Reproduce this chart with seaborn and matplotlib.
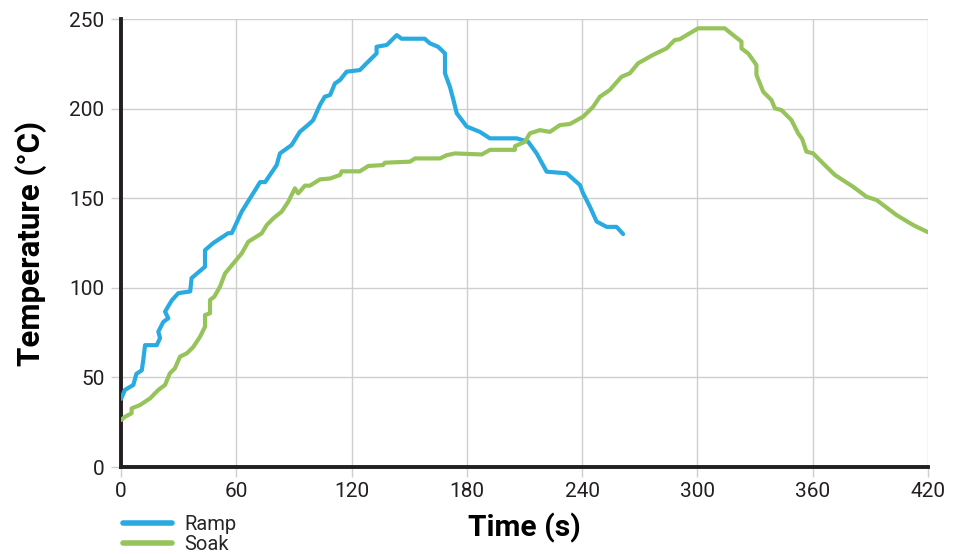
import matplotlib
matplotlib.use("Agg")
import matplotlib.pyplot as plt
import seaborn as sns
import pandas as pd

ramp_t = [0, 2, 6.4, 8, 10.8, 11.6, 12.5, 18.6, 20.3, 19.4, 22, 24.6, 22.9, 26.4, 29.8, 36, 36.7,
          43.7, 43.7, 48, 55.8, 57.6, 62.8, 72.4, 75, 81, 82.7, 88.8, 93, 98.3, 100, 103.5, 106,
          108.8, 111.3, 114, 117.4, 124.3, 127.8, 133, 133, 138.3, 143.5, 146, 158, 160.8, 165,
          168.6, 168.6, 171.2, 173, 174.7, 179.9, 186.8, 192, 205.9, 211.9, 216.3, 221.5, 231.9,
          238.8, 240.5, 244, 247.5, 252.7, 257.9, 261.3]
ramp_T = [38, 43, 45.8, 52, 54, 60, 68, 68, 72, 75.5, 81, 83, 86.7, 93, 97, 98, 105.4,
          111.8, 121, 125, 130.5, 130.5, 142.5, 159, 159, 168.5, 175, 179.7, 187, 191.8, 193.6, 202, 206.6,
          207.6, 214, 216, 220.6, 221.5, 225.3, 230.8, 234.5, 235.5, 241, 239, 239, 236.4, 234.5,
          230.8, 219.7, 212, 204.8, 197.4, 190, 187, 183.4, 183.4, 181.5, 175, 164.8, 163.9,
          157.4, 152.7, 145.3, 137, 134, 134, 130]

soak_t = [0, 2, 5.5, 5.5, 9.9, 15.1, 19.4, 22.9, 25.4, 28, 30.7, 34.2, 37.6, 41.1, 43.7, 43.7, 46.3,
          46.3, 48.5, 51.5, 54.1, 62.8, 66.2, 73.2, 75.8, 79.3, 83.6, 87, 90.5, 92.2, 95.7, 98.3,
          103.5, 108.8, 114, 114.8, 124.3, 128.7, 136.4, 137.3, 150.4, 153, 166, 169.5, 173.8,
          187.7, 192, 205, 205, 210.2, 212.8, 218, 223.2, 228.4, 233.6, 240.5, 245.7, 249.2, 254.4,
          260.5, 264.8, 269.1, 276.9, 283.9, 288.2, 290.8, 294.3, 300.4, 314.2, 318.6, 322.9, 322.9,
          326.4, 330.7, 330.7, 332.5, 334.2, 338.5, 340.3, 343.7, 348.9, 352.4, 354.5, 356.7, 360.2,
          365.4, 371.5, 381, 388, 393.2, 403.6, 412.3, 420]
soak_T = [26.2, 28, 30, 32.7, 34.6, 38.3, 43, 45.8, 52.3, 55, 61.6, 63.4, 67, 72.7, 78.3, 84.8, 85.8,
          93.2, 95, 100.6, 108, 119.2, 125.7, 130.4, 135, 138.8, 142.5, 148, 155.5, 152.7, 157, 157,
          160.5, 161, 163, 165, 165, 168, 168.5, 169.8, 170.4, 172.2, 172.2, 174, 175,
          174.4, 177, 177, 179, 181.5, 186.2, 188, 187, 190.8, 191.4, 195.5, 201, 206.6, 210.4,
          217.8, 219.7, 225.3, 230, 233.6, 238.3, 238.7, 241, 244.8, 244.8, 241, 237.4, 233.6,
          230.8, 224.3, 218.8, 214, 209.4, 204.8, 200.1, 199.2, 193.6, 186.2, 183, 176, 175,
          169.4, 163, 156.4, 150.8, 149, 140.6, 135, 131]

x_ticks = [0, 60, 120, 180, 240, 300, 360, 420]
y_ticks = [0, 50, 100, 150, 200, 250]

df = pd.concat([
    pd.DataFrame({"Time": ramp_t, "Temp": ramp_T, "Profile": "Ramp"}),
    pd.DataFrame({"Time": soak_t, "Temp": soak_T, "Profile": "Soak"}),
], ignore_index=True)

sns.set_theme(style="white")
plt.rcParams['font.family'] = ['Roboto', 'DejaVu Sans']

fig = plt.figure(figsize=(9.66, 5.54), dpi=100)
ax = fig.add_axes([0.1253, 0.157, 0.8354, 0.8087])

sns.lineplot(data=df, x="Time", y="Temp", hue="Profile", sort=False, estimator=None,
             palette={"Ramp": "#29abe2", "Soak": "#96c45a"}, linewidth=3.0, ax=ax,
             legend=False, zorder=3)

ax.set_xlim(0, 420)
ax.set_ylim(0, 250)
ax.set_xticks(x_ticks)
ax.set_yticks(y_ticks)
ax.grid(True, color="#cfcfcf", linewidth=1.0, zorder=0)
ax.set_axisbelow(True)
for s in ["top", "right"]:
    ax.spines[s].set_visible(False)
for s in ["left", "bottom"]:
    ax.spines[s].set_color("#231f20")
    ax.spines[s].set_linewidth(2.8)
ax.tick_params(axis="both", which="both", length=7, width=1, color="#cfcfcf",
               labelsize=15, labelcolor="#231f20", direction="out",
               bottom=True, left=True)
ax.tick_params(axis="x", pad=4)
ax.tick_params(axis="y", pad=5)
ax.set_xlabel("Time (s)", fontsize=21.5, fontweight="bold", color="black", labelpad=8)
ax.set_ylabel("Temperature (°C)", fontsize=22.5, fontweight="bold", color="black", labelpad=16)

from matplotlib.lines import Line2D
handles = [Line2D([0], [0], color="#29abe2", lw=4),
           Line2D([0], [0], color="#96c45a", lw=4)]
fig.legend(handles, ["Ramp", "Soak"], loc="lower left", bbox_to_anchor=(0.119, -0.014),
           frameon=False, fontsize=14.5, handlelength=2.45, labelspacing=0.02,
           handletextpad=0.6, borderaxespad=0.0)

fig.savefig("out.png", dpi=100)
